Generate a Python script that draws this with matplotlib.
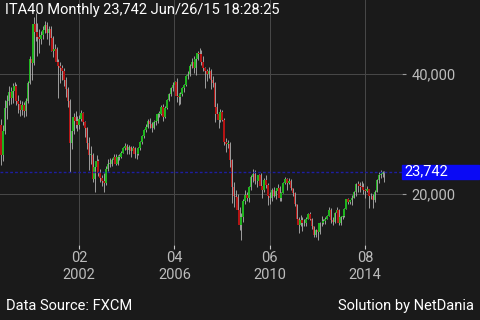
import numpy as np
import pandas as pd
import matplotlib
matplotlib.use("Agg")
import matplotlib.pyplot as plt
from matplotlib.patches import Rectangle

plt.rcParams['font.family'] = ['Roboto', 'DejaVu Sans']

# monthly ITA40 bars, Sep 1998 .. Jun 2015, values in thousands
start_month = "1998-09"
first_open = 31.5
close = [
    26.5, 30.5, 34.3, 35.5,                                                  # 1998
    37.0, 36.0, 37.2, 38.0, 35.5, 35.0, 34.0, 34.8, 33.8, 35.5, 38.5, 42.5,  # 1999
    41.8, 48.3, 47.0, 46.2, 45.8, 46.5, 47.3, 48.2, 46.8, 47.5, 46.0, 43.8,  # 2000
    44.2, 42.0, 41.3, 41.0, 40.5, 39.0, 37.5, 35.5, 28.5, 30.5, 32.8, 32.2,  # 2001
    31.5, 32.5, 33.5, 32.0, 31.0, 28.5, 26.5, 26.5, 22.5, 24.5, 25.5, 23.5,  # 2002
    22.6, 22.2, 21.8, 24.2, 25.0, 25.0, 25.6, 26.2, 25.0, 26.2, 26.2, 26.9,  # 2003
    27.6, 28.0, 27.4, 27.8, 27.2, 27.6, 26.7, 26.6, 27.6, 28.6, 29.6, 30.7,  # 2004
    31.2, 32.1, 31.6, 31.0, 32.0, 32.2, 33.3, 33.4, 34.5, 32.8, 34.3, 35.7,  # 2005
    36.6, 37.6, 38.2, 38.6, 36.4, 36.2, 36.6, 37.6, 38.2, 39.6, 40.0, 41.4,  # 2006
    42.0, 41.0, 42.5, 43.5, 43.3, 42.0, 41.0, 40.5, 40.0, 40.5, 39.0, 38.5,  # 2007
    34.5, 33.4, 32.4, 33.6, 32.4, 28.6, 28.3, 28.4, 25.6, 21.2, 19.6, 19.5,  # 2008
    17.3, 14.8, 16.1, 18.9, 19.8, 19.4, 21.2, 22.8, 23.3, 22.2, 22.1, 23.2,  # 2009
    21.3, 20.6, 22.4, 21.5, 19.6, 19.4, 20.7, 19.7, 20.5, 21.0, 19.3, 20.2,  # 2010
    21.8, 22.5, 21.8, 22.2, 21.0, 20.2, 18.3, 15.9, 14.8, 15.7, 15.1, 15.1,  # 2011
    15.8, 16.6, 15.9, 14.6, 13.1, 14.0, 13.6, 15.1, 15.2, 15.5, 15.9, 16.3,  # 2012
    17.4, 15.6, 15.3, 16.8, 17.4, 15.2, 16.2, 16.4, 17.5, 19.1, 18.7, 19.0,  # 2013
    19.4, 20.4, 21.7, 21.6, 21.3, 21.1, 20.6, 20.5, 20.9, 19.7, 19.6, 19.0,  # 2014
    20.3, 22.4, 23.2, 23.4, 23.6, 23.742,                                    # 2015
]
high = [
    32.5, 31.5, 35.7, 36.5,
    38.0, 37.8, 38.5, 38.7, 38.3, 36.5, 35.6, 35.5, 35.3, 36.0, 38.8, 43.0,
    43.5, 49.5, 50.2, 48.5, 47.5, 47.2, 48.0, 48.8, 48.6, 48.0, 48.0, 46.3,
    45.0, 44.5, 42.5, 42.0, 41.5, 41.0, 39.5, 37.8, 35.8, 31.5, 33.5, 33.8,
    33.0, 33.2, 34.0, 33.6, 32.2, 31.2, 29.5, 28.0, 26.8, 25.5, 26.5, 25.8,
    24.2, 23.2, 23.5, 24.6, 25.8, 26.0, 26.0, 26.6, 26.6, 26.5, 26.7, 27.2,
    27.9, 28.5, 28.4, 28.2, 28.0, 28.0, 27.8, 26.9, 27.8, 28.8, 29.8, 30.8,
    31.6, 32.5, 32.6, 32.0, 32.3, 32.6, 33.5, 33.8, 34.8, 35.0, 34.6, 35.9,
    36.9, 37.8, 38.6, 38.9, 39.4, 36.8, 37.0, 37.8, 38.3, 39.8, 40.5, 41.6,
    42.6, 43.0, 42.8, 43.8, 44.3, 44.0, 43.0, 41.2, 40.8, 41.2, 40.8, 39.6,
    38.6, 35.2, 33.6, 34.2, 34.0, 32.6, 29.4, 29.0, 28.6, 25.8, 22.0, 20.6,
    20.0, 17.8, 16.8, 19.2, 20.6, 20.4, 21.4, 23.2, 24.2, 24.0, 23.0, 23.3,
    23.5, 21.4, 22.6, 23.2, 21.8, 20.4, 21.0, 21.2, 20.8, 21.6, 21.4, 20.4,
    22.0, 22.9, 22.6, 22.6, 22.5, 21.0, 20.4, 18.4, 16.2, 16.5, 16.2, 15.8,
    16.2, 16.8, 17.0, 16.0, 14.6, 14.1, 14.5, 15.3, 16.4, 15.9, 16.1, 16.5,
    17.8, 17.6, 16.2, 17.0, 17.8, 17.5, 16.4, 16.8, 17.6, 19.2, 19.4, 19.0,
    19.9, 20.5, 21.8, 22.2, 22.0, 22.1, 21.9, 20.8, 21.4, 20.9, 20.1, 20.0,
    20.6, 22.5, 23.6, 24.0, 23.8, 23.9,
]
low = [
    24.8, 25.5, 30.0, 32.5,
    34.8, 35.0, 35.2, 36.5, 34.8, 33.5, 33.0, 33.2, 32.8, 33.0, 35.2, 38.3,
    39.0, 41.5, 45.5, 43.0, 43.5, 45.0, 45.8, 46.8, 45.8, 44.8, 43.8, 42.8,
    42.5, 41.5, 36.0, 38.5, 39.0, 38.0, 36.2, 34.5, 23.7, 27.5, 30.0, 31.0,
    30.5, 30.8, 32.2, 31.5, 29.5, 27.5, 24.0, 25.0, 22.0, 20.3, 24.0, 23.0,
    22.0, 21.3, 20.3, 21.5, 23.8, 24.5, 24.6, 25.3, 24.8, 24.8, 25.7, 26.0,
    26.8, 27.3, 26.6, 26.6, 26.2, 26.8, 26.0, 25.8, 26.5, 27.4, 28.4, 29.4,
    30.4, 31.0, 31.0, 30.3, 30.8, 31.5, 31.8, 32.8, 33.1, 32.2, 32.6, 34.2,
    35.5, 36.3, 37.2, 37.7, 35.3, 34.8, 35.0, 36.4, 37.0, 38.0, 39.2, 39.6,
    41.0, 40.2, 39.8, 42.3, 42.8, 41.5, 40.5, 37.7, 38.8, 39.3, 37.5, 37.8,
    32.0, 32.5, 31.0, 32.0, 32.2, 28.2, 27.0, 27.6, 24.5, 18.5, 17.8, 17.6,
    16.8, 14.0, 12.3, 15.4, 18.4, 18.8, 18.7, 20.6, 22.0, 21.7, 21.1, 21.7,
    21.0, 19.4, 20.4, 21.0, 18.2, 18.4, 18.9, 19.5, 19.1, 20.2, 18.8, 18.9,
    20.1, 21.6, 20.6, 21.7, 20.7, 19.6, 18.0, 15.2, 13.5, 14.6, 13.9, 14.7,
    14.7, 15.8, 15.6, 14.2, 12.9, 12.9, 12.3, 13.4, 14.7, 15.0, 15.0, 15.8,
    16.3, 15.1, 14.9, 15.1, 16.8, 14.8, 14.9, 15.9, 16.2, 17.5, 18.4, 18.3,
    18.2, 19.3, 19.6, 20.4, 20.3, 20.8, 20.0, 19.4, 20.4, 17.6, 19.1, 17.6,
    18.6, 20.3, 21.8, 22.6, 22.8, 22.0,
]
tick_months = ["2002-02", "2006-04", "2010-06", "2014-08"]
y_ticks = [20000, 40000]
title = "ITA40 Monthly 23,742 Jun/26/15 18:28:25"
last_price = 23742

bg = "#1a1a1a"
green = "#1fb41f"
red = "#b41414"
wick = "#b4b4b4"
grid_c = "#474747"
label_c = "#bcbcbc"

close = np.array(close) * 1000
high = np.array(high) * 1000
low = np.array(low) * 1000
opens = np.concatenate([[first_open * 1000], close[:-1]])
months = pd.period_range(start_month, periods=len(close), freq="M")
idx = np.arange(len(close))
up = close >= opens

fig = plt.figure(figsize=(4.8, 3.2), dpi=100, facecolor=bg)
ax = fig.add_axes([0, 75 / 320, 402 / 480, 245 / 320])
ax.set_facecolor(bg)

ax.vlines(idx + 0.2, low, high, color=wick, lw=0.6, zorder=2)
body_lo = np.minimum(opens, close)
body_h = np.maximum(np.abs(close - opens), 150)
ax.bar(idx, body_h, bottom=body_lo, width=0.85,
       color=np.where(up, green, red), linewidth=0, zorder=3)

ax.axhline(last_price, color="#1e1ea0", lw=1, ls=(0, (2, 1.5)), zorder=4)

# grid every 50 bars, spaced as in the reference
tick_idx = [months.get_loc(pd.Period(m, freq="M")) for m in tick_months]
px_per_bar = (365 - 79) / (tick_idx[-1] - tick_idx[0])
left = tick_idx[0] - 79 / px_per_bar
ax.set_xlim(left, left + 402 / px_per_bar)
ax.set_ylim(11500, 11500 + 245 * 1000 / 6)

ax.set_xticks(tick_idx)
ax.set_xticklabels([f"{months[i].month:02d}\n{months[i].year}" for i in tick_idx],
                   linespacing=1.35)
ax.set_yticks(y_ticks)
ax.set_yticklabels([f"{v:,}" for v in y_ticks])
ax.yaxis.tick_right()
ax.tick_params(axis="x", direction="out", length=3, width=0.8, color="#c8c8c8",
               labelsize=10.5, labelcolor=label_c, pad=1)
ax.tick_params(axis="y", direction="out", length=3, width=0.8, color="#9a9a9a",
               labelsize=10.5, labelcolor=label_c, pad=4)
ax.grid(True, color=grid_c, lw=0.75, zorder=1)
for s in ax.spines.values():
    s.set_visible(False)

# last price box on the right axis
fig.canvas.draw()
y_pix = ax.transData.transform((0, last_price))[1]
fig.add_artist(Rectangle((402 / 480, (y_pix - 7) / 320), 77 / 480, 14 / 320,
                         transform=fig.transFigure, color="#0a0af5", zorder=5))
fig.text(404 / 480, y_pix / 320, f"{last_price:,}", color="white", fontsize=10.5,
         va="center", ha="left", zorder=6)

fig.text(5 / 480, 1 - 14 / 320, title, color="white", fontsize=10.5, va="baseline")
fig.text(6 / 480, 10 / 320, "Data Source: FXCM", color="white", fontsize=10.5,
         va="baseline")
fig.text(474 / 480, 10 / 320, "Solution by NetDania", color="white", fontsize=10.5,
         va="baseline", ha="right")

fig.savefig("out.png", dpi=100, facecolor=bg)
